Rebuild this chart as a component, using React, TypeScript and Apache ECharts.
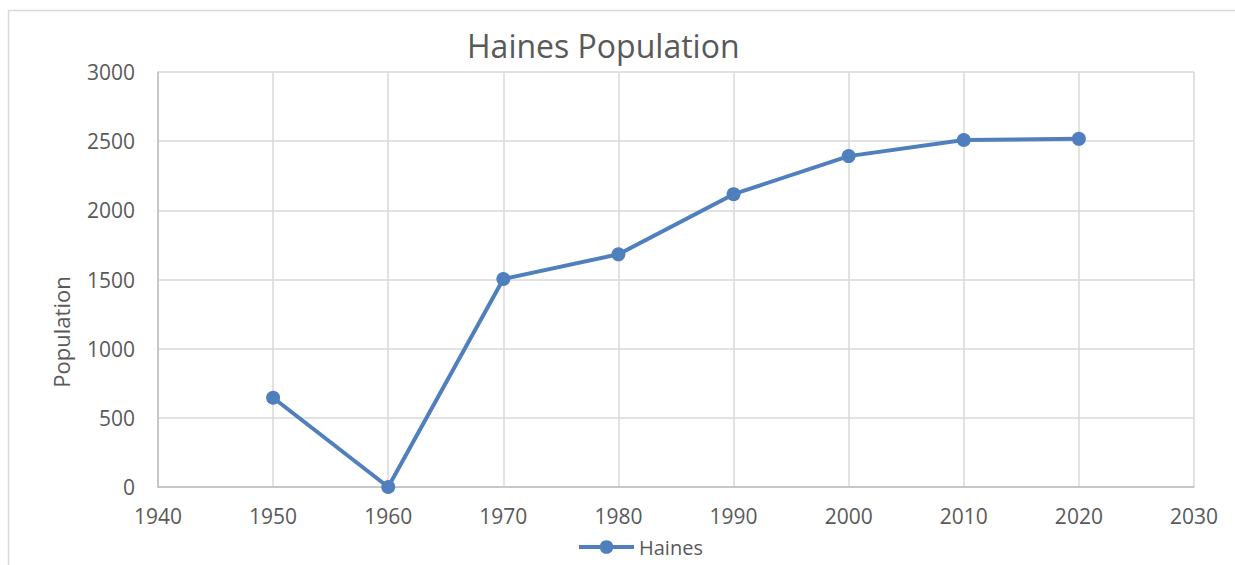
import React, { useEffect, useRef } from "react";
import * as echarts from "echarts";

const years = [1950, 1960, 1970, 1980, 1990, 2000, 2010, 2020];
const population = [645, 0, 1504, 1682, 2117, 2392, 2508, 2517];
const seriesName = "Haines";
const titleText = "Haines Population";
const yAxisTitle = "Population";

const FONT = "'Open Sans', sans-serif";
const TEXT = "#595959";
const LINE = "#4f7fbd";

export default function App() {
  const ref = useRef<HTMLDivElement>(null);
  useEffect(() => {
    if (!ref.current) return;
    const chart = echarts.init(ref.current, null, { renderer: "svg" });
    chart.setOption({
      animation: false,
      backgroundColor: "#ffffff",
      textStyle: { fontFamily: FONT },
      graphic: [
        {
          type: "rect",
          shape: { x: 8.5, y: 10.5, width: 1240, height: 600 },
          style: { fill: "none", stroke: "#d9d9d9", lineWidth: 1.5 },
          silent: true,
          z: -10,
        },
        {
          type: "text",
          x: 467,
          y: 45,
          style: {
            text: titleText,
            fontFamily: FONT,
            fontSize: 32,
            fill: TEXT,
            verticalAlign: "middle",
          },
        },
        {
          type: "text",
          x: 61,
          y: 332,
          rotation: Math.PI / 2,
          style: {
            text: yAxisTitle,
            fontFamily: FONT,
            fontSize: 22,
            fill: TEXT,
            align: "center",
            verticalAlign: "middle",
          },
        },
      ],
      grid: { left: 158, right: 41, top: 72, bottom: 78, containLabel: false },
      legend: {
        bottom: 3,
        left: 572,
        itemWidth: 55,
        itemHeight: 17,
        itemGap: 10,
        lineStyle: { width: 4 },
        textStyle: { fontFamily: FONT, fontSize: 20, color: TEXT },
        data: [seriesName],
      },
      xAxis: {
        type: "value",
        min: 1940,
        max: 2030,
        interval: 10,
        axisLine: { show: true, lineStyle: { color: "#bfbfbf", width: 1.5 } },
        axisTick: { show: false },
        splitLine: { show: true, lineStyle: { color: "#d9d9d9", width: 1.5 } },
        axisLabel: {
          fontFamily: FONT,
          fontSize: 21,
          color: TEXT,
          margin: 18,
          formatter: (v: number) => String(v),
        },
      },
      yAxis: {
        type: "value",
        min: 0,
        max: 3000,
        interval: 500,
        axisLine: { show: true, lineStyle: { color: "#bfbfbf", width: 1.5 } },
        axisTick: { show: false },
        splitLine: { show: true, lineStyle: { color: "#d9d9d9", width: 1.5 } },
        axisLabel: {
          fontFamily: FONT,
          fontSize: 21,
          color: TEXT,
          margin: 23,
          formatter: (v: number) => String(v),
        },
      },
      series: [
        {
          name: seriesName,
          type: "line",
          data: years.map((y, i) => [y, population[i]]),
          symbol: "circle",
          symbolSize: 14,
          itemStyle: { color: LINE },
          lineStyle: { color: LINE, width: 4 },
        },
      ],
    });
    return () => chart.dispose();
  }, []);
  return (
    <div
      ref={ref}
      style={{ position: "fixed", left: 0, top: 0, width: 1235, height: 565, background: "#fff" }}
    />
  );
}
